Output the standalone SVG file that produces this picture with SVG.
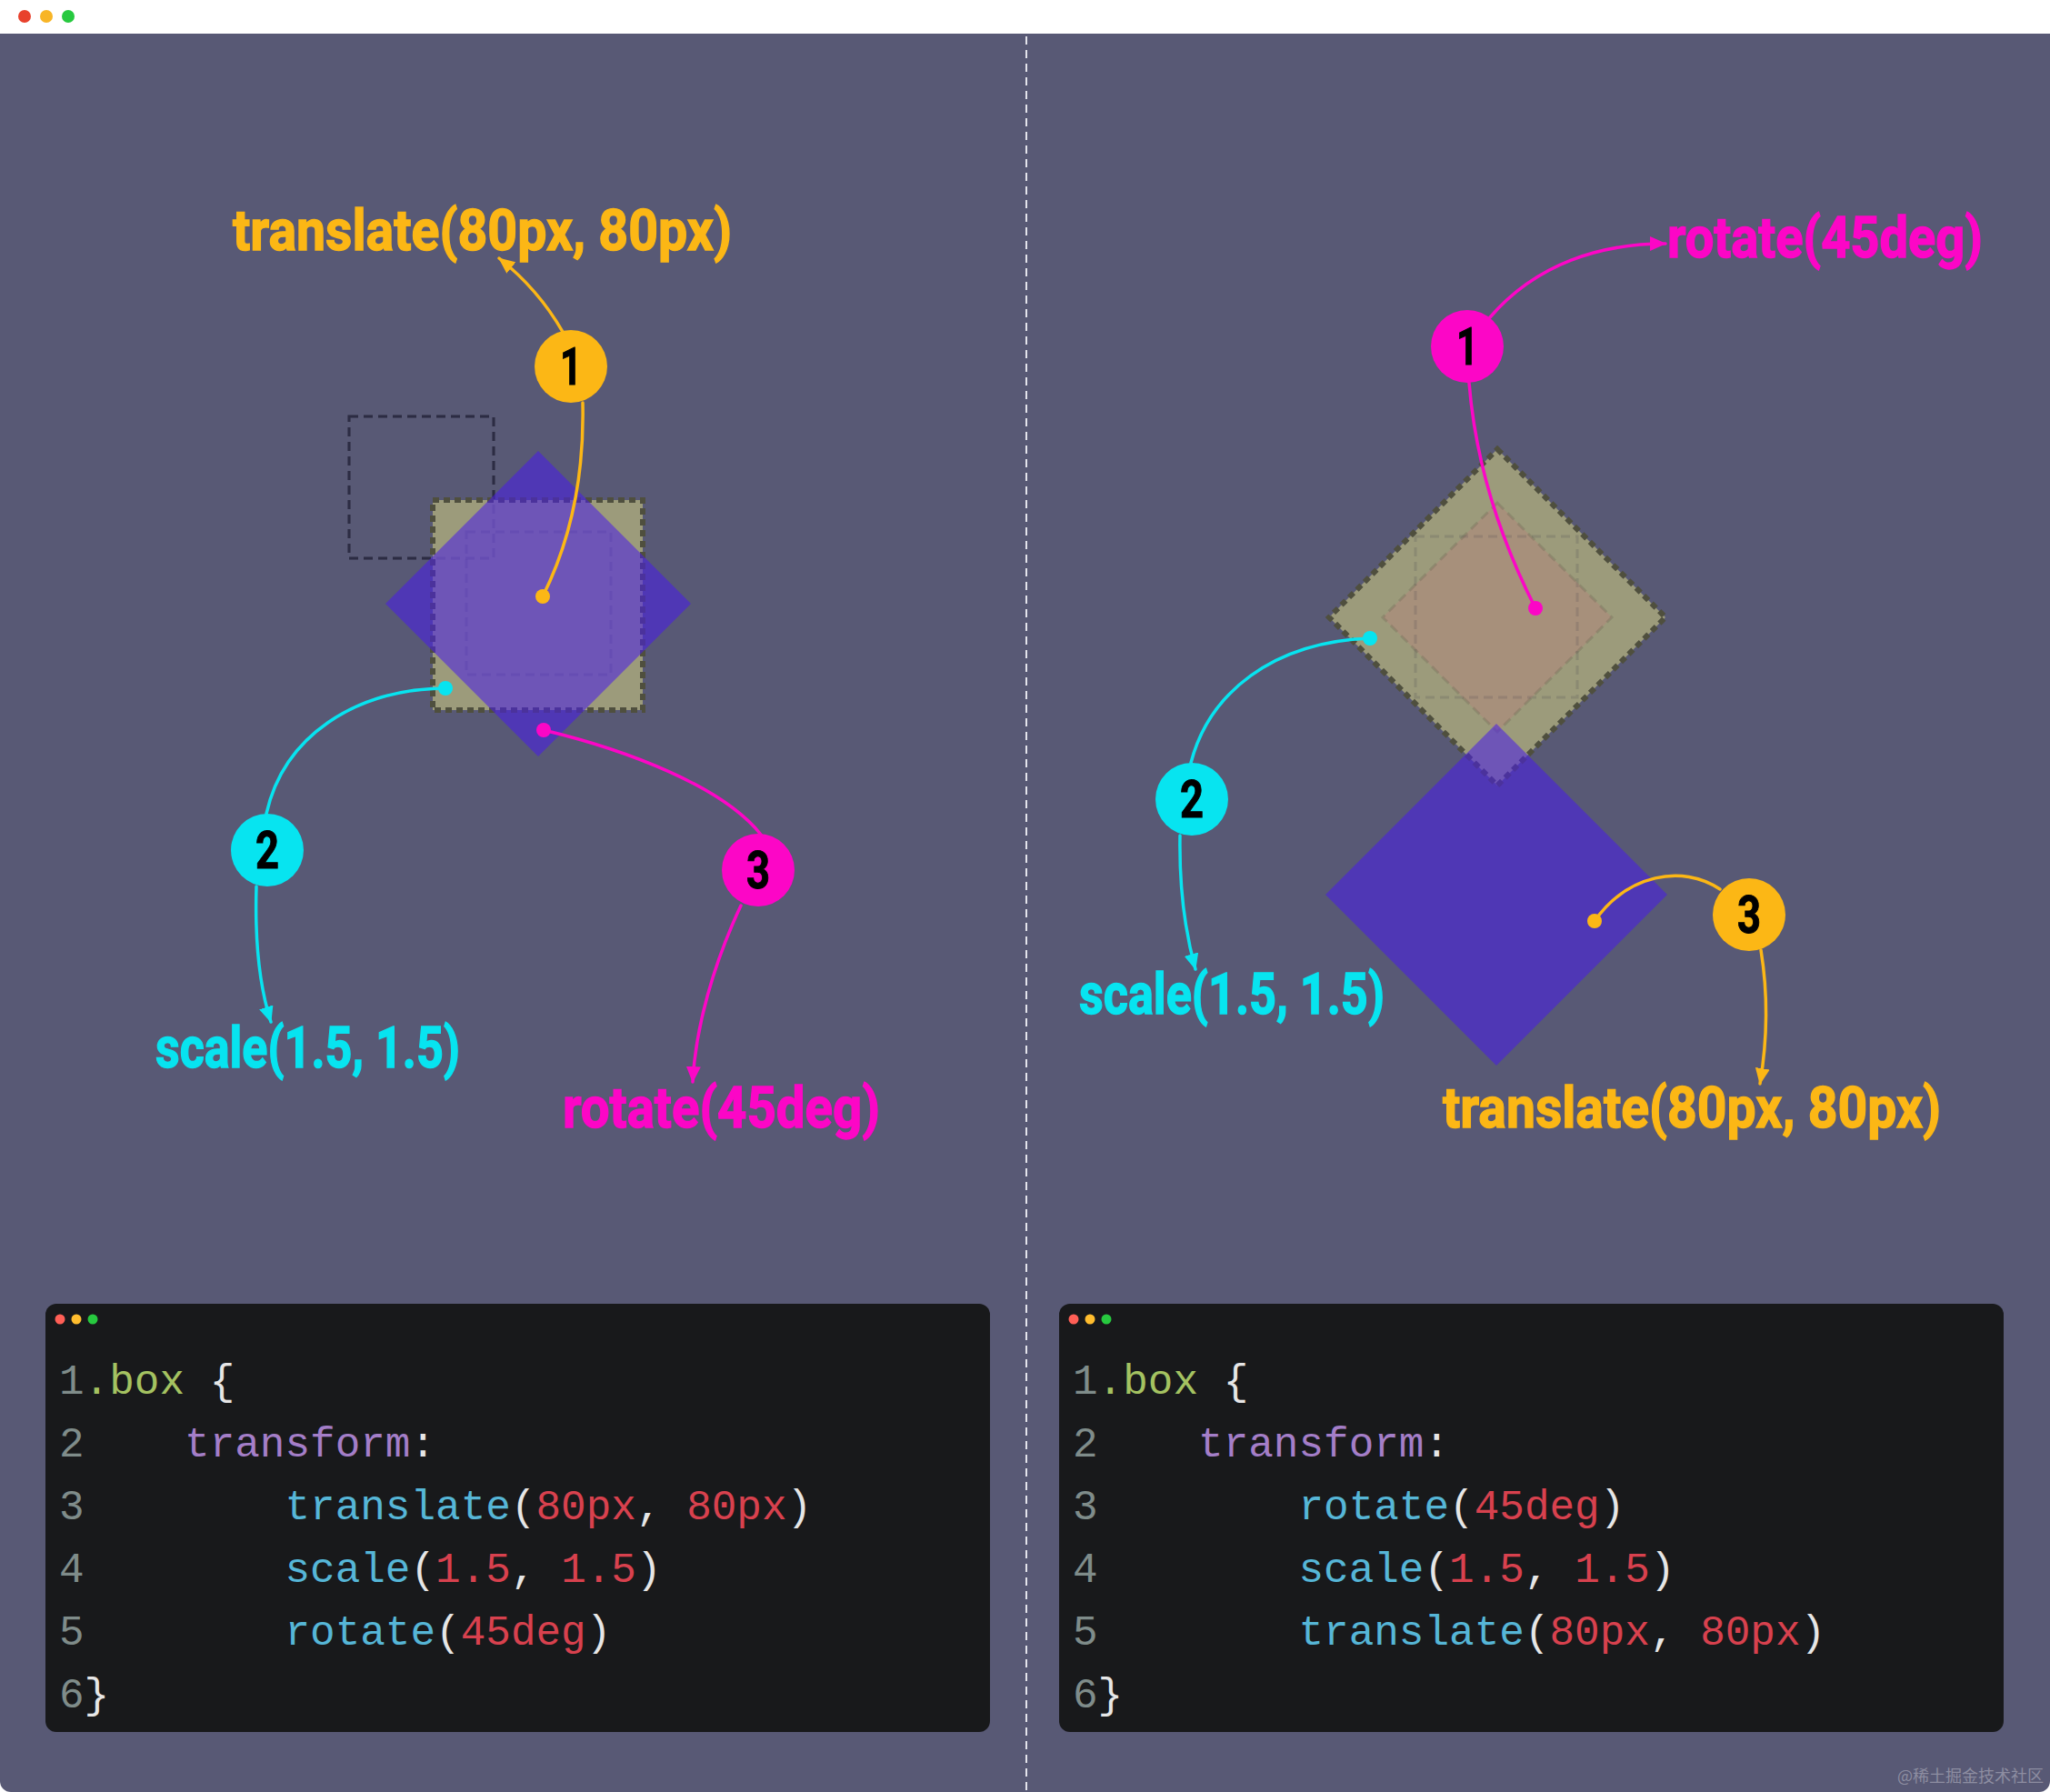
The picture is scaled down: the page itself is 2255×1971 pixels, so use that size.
<svg xmlns="http://www.w3.org/2000/svg" width="2255" height="1971" viewBox="0 0 2255 1971">
<defs>
<style>
.lbl{font-family:Roboto,"Liberation Sans",sans-serif;font-weight:700;font-size:63px;stroke-width:1.4;paint-order:stroke}
.num{font-family:Roboto,"Liberation Sans",sans-serif;font-weight:700;font-size:57px;fill:#000;stroke:#000;stroke-width:1;text-anchor:middle}
.code{font-family:"Liberation Mono","DejaVu Sans Mono",monospace;font-size:46px;fill:#e6e6e6}
.ln{fill:#7f8c8a}.g{fill:#a4c261}.p{fill:#a47ec8}.b{fill:#56b6d7}.r{fill:#d8414e}
.cy{stroke:#07e4f0}.ye{stroke:#fcb715}.mg{stroke:#fc06c6}
.con path{fill:none;stroke-width:3.5;stroke-linecap:round}
.kh{fill:#9c9b7b;stroke:#4f4f3e;stroke-width:6;stroke-dasharray:7 5}
.guide{fill:none;stroke:#2c2d44;stroke-width:3;stroke-dasharray:10 6}
</style>
<marker id="aY" markerUnits="userSpaceOnUse" markerWidth="18" markerHeight="16" refX="17" refY="8" orient="auto"><path d="M0,0 L18,8 L0,16 z" fill="#fcb715"/></marker>
<marker id="aC" markerUnits="userSpaceOnUse" markerWidth="18" markerHeight="16" refX="17" refY="8" orient="auto"><path d="M0,0 L18,8 L0,16 z" fill="#07e4f0"/></marker>
<marker id="aM" markerUnits="userSpaceOnUse" markerWidth="18" markerHeight="16" refX="17" refY="8" orient="auto"><path d="M0,0 L18,8 L0,16 z" fill="#fc06c6"/></marker>
</defs>

<!-- window -->
<rect x="0" y="0" width="2255" height="1971" fill="#ffffff"/>
<rect x="0" y="37" width="2255" height="1934" rx="12" fill="#585975"/>
<rect x="0" y="37" width="2255" height="60" fill="#585975"/>
<circle cx="27" cy="18" r="7" fill="#e8412c"/>
<circle cx="51" cy="18" r="7" fill="#f8b526"/>
<circle cx="75" cy="18" r="7" fill="#27c93f"/>
<line x1="1129" y1="40" x2="1129" y2="1971" stroke="#e4e4ec" stroke-width="2" stroke-dasharray="9 6"/>

<!-- left shapes -->
<g id="left-shapes">
<rect class="guide" x="384" y="458" width="159" height="156" stroke-width="4"/>
<rect class="kh" x="476" y="550" width="231" height="231"/>
<rect class="guide" x="384" y="458" width="159" height="156" opacity="0.18"/>
<rect class="guide" x="513" y="585" width="159" height="157" opacity="0.15"/>
<polygon points="592,496 760,664 592,832 424,664" fill="#481cea" fill-opacity="0.55"/>
</g>

<!-- right shapes -->
<g id="right-shapes">
<polygon class="kh" points="1647,494 1832,679 1647,864 1462,679"/>
<polygon points="1647,553 1773,679 1647,805 1521,679" fill="#a7907b" stroke="#6f6a55" stroke-width="3" stroke-dasharray="10 6" stroke-opacity="0.35"/>
<rect class="guide" x="1557" y="590" width="178" height="177" opacity="0.15"/>
<polygon points="1646,796 1834,984 1646,1172 1458,984" fill="#481cea" fill-opacity="0.55"/>
</g>

<!-- connectors -->
<g id="connectors" class="con">
<path class="ye" d="M619,365 Q592,318 549,284" marker-end="url(#aY)"/>
<path class="ye" d="M641,443 C643,530 625,600 597,656"/>
<path class="cy" d="M293,895 C312,810 390,758 490,757"/>
<path class="cy" d="M282,975 C280,1040 287,1090 298,1124" marker-end="url(#aC)"/>
<path class="mg" d="M598,803 C690,825 795,865 837,918"/>
<path class="mg" d="M815,996 C785,1060 765,1130 762,1190" marker-end="url(#aM)"/>
<path class="mg" d="M1639,349 C1690,290 1760,268 1832,268" marker-end="url(#aM)"/>
<path class="mg" d="M1616,421 Q1626,545 1689,669"/>
<path class="cy" d="M1310,839 C1330,762 1400,706 1507,702"/>
<path class="cy" d="M1298,919 C1297,980 1305,1030 1315,1066" marker-end="url(#aC)"/>
<path class="ye" d="M1754,1013 C1790,962 1850,950 1892,978"/>
<path class="ye" d="M1937,1045 C1946,1100 1943,1150 1936,1192" marker-end="url(#aY)"/>
<circle cx="597" cy="656" r="8" fill="#fcb715"/>
<circle cx="490" cy="757" r="8" fill="#07e4f0"/>
<circle cx="598" cy="803" r="8" fill="#fc06c6"/>
<circle cx="1689" cy="669" r="8" fill="#fc06c6"/>
<circle cx="1507" cy="702" r="8" fill="#07e4f0"/>
<circle cx="1754" cy="1013" r="8" fill="#fcb715"/>
</g>

<!-- left nodes -->
<g id="L-step1"><circle cx="628" cy="403" r="40" fill="#fcb715"/><text class="num" x="628" y="423" textLength="24" lengthAdjust="spacingAndGlyphs">1</text></g>
<g id="L-step2"><circle cx="294" cy="935" r="40" fill="#07e4f0"/><text class="num" x="294" y="955" textLength="26" lengthAdjust="spacingAndGlyphs">2</text></g>
<g id="L-step3"><circle cx="834" cy="957" r="40" fill="#fc06c6"/><text class="num" x="834" y="977" textLength="26" lengthAdjust="spacingAndGlyphs">3</text></g>
<g id="L-label-translate"><text class="lbl" x="256" y="275" fill="#fcb715" stroke="#fcb715" textLength="549" lengthAdjust="spacingAndGlyphs">translate(80px, 80px)</text></g>
<g id="L-label-scale"><text class="lbl" x="171" y="1174" fill="#07e4f0" stroke="#07e4f0" textLength="335" lengthAdjust="spacingAndGlyphs">scale(1.5, 1.5)</text></g>
<g id="L-label-rotate"><text class="lbl" x="619" y="1240" fill="#fc06c6" stroke="#fc06c6" textLength="349" lengthAdjust="spacingAndGlyphs">rotate(45deg)</text></g>

<!-- right nodes -->
<g id="R-step1"><circle cx="1614" cy="381" r="40" fill="#fc06c6"/><text class="num" x="1614" y="401" textLength="24" lengthAdjust="spacingAndGlyphs">1</text></g>
<g id="R-step2"><circle cx="1311" cy="879" r="40" fill="#07e4f0"/><text class="num" x="1311" y="899" textLength="26" lengthAdjust="spacingAndGlyphs">2</text></g>
<g id="R-step3"><circle cx="1924" cy="1006" r="40" fill="#fcb715"/><text class="num" x="1924" y="1026" textLength="26" lengthAdjust="spacingAndGlyphs">3</text></g>
<g id="R-label-rotate"><text class="lbl" x="1834" y="283" fill="#fc06c6" stroke="#fc06c6" textLength="347" lengthAdjust="spacingAndGlyphs">rotate(45deg)</text></g>
<g id="R-label-scale"><text class="lbl" x="1187" y="1115" fill="#07e4f0" stroke="#07e4f0" textLength="336" lengthAdjust="spacingAndGlyphs">scale(1.5, 1.5)</text></g>
<g id="R-label-translate"><text class="lbl" x="1587" y="1240" fill="#fcb715" stroke="#fcb715" textLength="548" lengthAdjust="spacingAndGlyphs">translate(80px, 80px)</text></g>

<!-- left code -->
<g id="L-code">
<rect x="50" y="1434" width="1039" height="471" rx="12" fill="#18191b"/>
<circle cx="66" cy="1451" r="5.5" fill="#ff5f56"/><circle cx="84" cy="1451" r="5.5" fill="#ffbd2e"/><circle cx="102" cy="1451" r="5.5" fill="#27c93f"/>
<text class="code" x="65" y="1533" xml:space="preserve"><tspan class="ln">1</tspan><tspan class="g">.box</tspan> {</text>
<text class="code" x="65" y="1602" xml:space="preserve"><tspan class="ln">2</tspan>    <tspan class="p">transform</tspan>:</text>
<text class="code" x="65" y="1671" xml:space="preserve"><tspan class="ln">3</tspan>        <tspan class="b">translate</tspan>(<tspan class="r">80px</tspan>, <tspan class="r">80px</tspan>)</text>
<text class="code" x="65" y="1740" xml:space="preserve"><tspan class="ln">4</tspan>        <tspan class="b">scale</tspan>(<tspan class="r">1.5</tspan>, <tspan class="r">1.5</tspan>)</text>
<text class="code" x="65" y="1809" xml:space="preserve"><tspan class="ln">5</tspan>        <tspan class="b">rotate</tspan>(<tspan class="r">45deg</tspan>)</text>
<text class="code" x="65" y="1878" xml:space="preserve"><tspan class="ln">6</tspan>}</text>
</g>

<!-- right code -->
<g id="R-code">
<rect x="1165" y="1434" width="1039" height="471" rx="12" fill="#18191b"/>
<circle cx="1181" cy="1451" r="5.5" fill="#ff5f56"/><circle cx="1199" cy="1451" r="5.5" fill="#ffbd2e"/><circle cx="1217" cy="1451" r="5.5" fill="#27c93f"/>
<text class="code" x="1180" y="1533" xml:space="preserve"><tspan class="ln">1</tspan><tspan class="g">.box</tspan> {</text>
<text class="code" x="1180" y="1602" xml:space="preserve"><tspan class="ln">2</tspan>    <tspan class="p">transform</tspan>:</text>
<text class="code" x="1180" y="1671" xml:space="preserve"><tspan class="ln">3</tspan>        <tspan class="b">rotate</tspan>(<tspan class="r">45deg</tspan>)</text>
<text class="code" x="1180" y="1740" xml:space="preserve"><tspan class="ln">4</tspan>        <tspan class="b">scale</tspan>(<tspan class="r">1.5</tspan>, <tspan class="r">1.5</tspan>)</text>
<text class="code" x="1180" y="1809" xml:space="preserve"><tspan class="ln">5</tspan>        <tspan class="b">translate</tspan>(<tspan class="r">80px</tspan>, <tspan class="r">80px</tspan>)</text>
<text class="code" x="1180" y="1878" xml:space="preserve"><tspan class="ln">6</tspan>}</text>
</g>

<text x="2087" y="1960" font-family="'Noto Sans CJK SC',sans-serif" font-size="18" fill="#a4a4b4" opacity="0.7">@稀土掘金技术社区</text>
</svg>
